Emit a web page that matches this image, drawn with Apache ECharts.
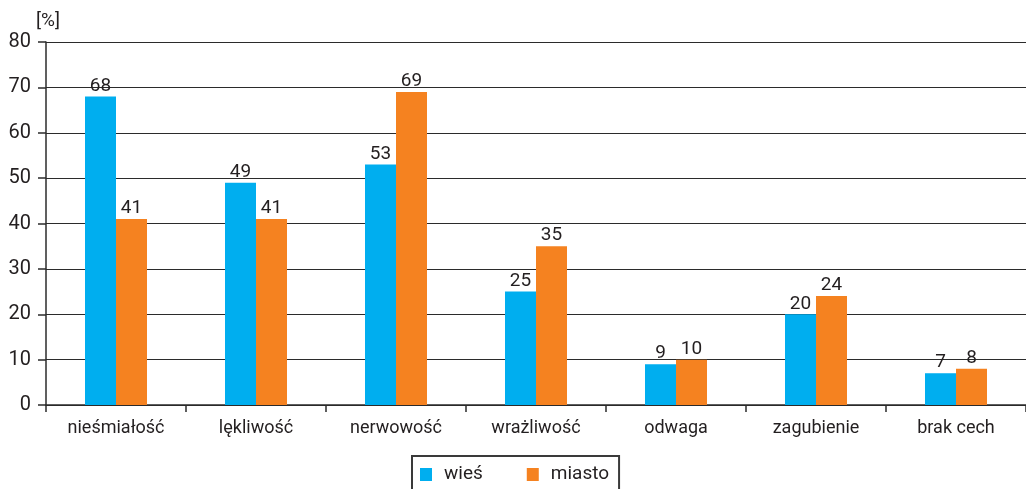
<!DOCTYPE html>
<html>
<head>
<meta charset="utf-8">
<script src="https://cdn.jsdelivr.net/npm/echarts@6/dist/echarts.min.js"></script>
<style>
  html, body { margin: 0; padding: 0; background: #fff; }
  #chart { width: 1026px; height: 489px; }
</style>
</head>
<body>
<div id="chart"></div>
<script>
// Cechy charakteru: porównanie wieś / miasto (w procentach)
const categories = ['nieśmiałość', 'lękliwość', 'nerwowość', 'wrażliwość', 'odwaga', 'zagubienie', 'brak cech'];
const wies = [68, 49, 53, 25, 9, 20, 7];
const miasto = [41, 41, 69, 35, 10, 24, 8];
const yTicks = [0, 10, 20, 30, 40, 50, 60, 70, 80];

const FONT = 'Roboto, "Noto Sans", sans-serif';
const TEXT = '#231f20';

const chart = echarts.init(document.getElementById('chart'), null, { renderer: 'canvas' });

const labelStyle = {
  show: true,
  position: 'top',
  distance: 1,
  color: TEXT,
  fontFamily: FONT,
  fontSize: 19
};

chart.setOption({
  animation: false,
  textStyle: { fontFamily: FONT },
  grid: { left: 46, right: 0, top: 42, bottom: 84, containLabel: false },
  title: {
    text: '[%]',
    left: 31,
    top: 7,
    textStyle: { color: TEXT, fontFamily: FONT, fontSize: 19, fontWeight: 'normal' }
  },
  legend: {
    data: ['wieś', 'miasto'],
    left: 412,
    top: 456,
    icon: 'rect',
    itemWidth: 12,
    itemHeight: 13,
    itemGap: 44,
    padding: [9, 10, 14, 8],
    borderColor: '#3a3a3a',
    borderWidth: 2,
    textStyle: { color: TEXT, fontFamily: FONT, fontSize: 19, padding: [0, 0, 0, 7] }
  },
  xAxis: {
    type: 'category',
    data: categories,
    axisLine: { show: true, lineStyle: { color: '#2b2b2b', width: 1.5 } },
    axisTick: { show: true, length: 7, alignWithLabel: false, lineStyle: { color: '#2b2b2b', width: 1.5 } },
    axisLabel: { color: TEXT, fontFamily: FONT, fontSize: 18, margin: 14 }
  },
  yAxis: {
    type: 'value',
    min: yTicks[0],
    max: yTicks[yTicks.length - 1],
    interval: 10,
    axisLine: { show: true, lineStyle: { color: '#2b2b2b', width: 1.5 } },
    axisTick: { show: true, length: 8, lineStyle: { color: '#2b2b2b', width: 1.5 } },
    splitLine: { show: true, lineStyle: { color: '#2b2b2b', width: 1.2 } },
    axisLabel: { color: TEXT, fontFamily: FONT, fontSize: 20, margin: 15 }
  },
  series: [
    {
      name: 'wieś',
      type: 'bar',
      data: wies,
      barWidth: 31,
      barGap: '0%',
      itemStyle: { color: '#00aeef' },
      label: labelStyle
    },
    {
      name: 'miasto',
      type: 'bar',
      data: miasto,
      barWidth: 31,
      barGap: '0%',
      itemStyle: { color: '#f58220' },
      label: labelStyle
    }
  ]
});
</script>
</body>
</html>
